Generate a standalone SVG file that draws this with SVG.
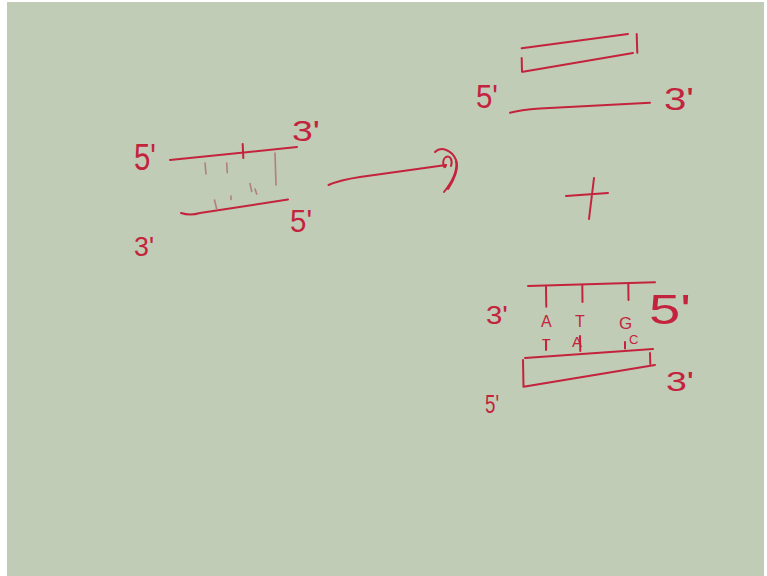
<svg xmlns="http://www.w3.org/2000/svg" width="767" height="576" viewBox="0 0 767 576">
<style>
.ink{fill:none;stroke:#c4233d;stroke-width:2;stroke-linecap:round;stroke-linejoin:round}
.faint{fill:none;stroke:#b0807c;stroke-width:1.6;stroke-linecap:round}
.lbl{font-family:"Liberation Sans",Arial,sans-serif;fill:#c4233d}
</style>
<rect x="0" y="0" width="767" height="576" fill="#ffffff"/>
<rect x="7" y="2" width="757" height="574" fill="#c0ccb5"/>

<g id="left-duplex">
  <path class="ink" d="M170,160 L297,147"/>
  <path class="ink" d="M242.7,144 L243.3,158"/>
  <path class="ink" d="M181,213 Q190,216 200,213 L288,199.5"/>
  <path class="faint" d="M205,163 L206,174 M226.7,163 L227.3,172.7 M275,153 L276,185 M214.5,200 L216.7,209 M231,196 L231,199.5 M250,183.5 L251.7,191.5 M255,189 L256.7,194"/>
  <text class="lbl" x="134" y="170" font-size="36" textLength="22" lengthAdjust="spacingAndGlyphs">5'</text>
  <text class="lbl" x="292" y="141" font-size="30" textLength="28" lengthAdjust="spacingAndGlyphs">3'</text>
  <text class="lbl" x="290" y="232" font-size="32" textLength="22" lengthAdjust="spacingAndGlyphs">5'</text>
  <text class="lbl" x="134" y="256" font-size="28" textLength="20" lengthAdjust="spacingAndGlyphs">3'</text>
</g>

<g id="connectors">
  <path class="ink" d="M328.5,185 Q340,180 360,177 L446,165"/>
  <path class="ink" d="M435,152 C441,146 452,150 456,160 C458,170 452,182 444,192"/>
  <path class="ink" d="M446,165 C444,172 441,160 446,157 C450,155 453,160 451,166 M448,189 C455,178 459,168 456,160"/>
</g>

<g id="top-right-strands">
  <path class="ink" d="M521.7,48.3 L628,34"/>
  <path class="ink" d="M636.7,34 L637.3,52.7"/>
  <path class="ink" d="M633,53 L523,71.7 M521.7,58 L522,71.7"/>
  <path class="ink" d="M510,112.7 Q520,110 540,108.5 L650,102.7"/>
  <text class="lbl" x="476" y="108" font-size="34" textLength="22" lengthAdjust="spacingAndGlyphs">5'</text>
  <text class="lbl" x="664" y="110" font-size="32" textLength="30" lengthAdjust="spacingAndGlyphs">3'</text>
</g>

<g id="plus">
  <path class="ink" d="M566,196 L608,193 M594,178 L589,219"/>
</g>

<g id="bottom-right-duplex">
  <path class="ink" d="M528,286 L655,282.3"/>
  <path class="ink" d="M546,286 L546.3,306.7 M582.3,285 L582.5,302 M628.3,283 L628.5,300"/>
  <path class="ink" d="M525,358 L653,349"/>
  <path class="ink" d="M546,340 L546,350 M580,336 L580.3,351 M625,342 L625,348.5"/>
  <path class="ink" d="M523,360 L523.5,386.7 L655,365 M650,353 L650.3,364"/>
  <text class="lbl" x="486" y="324" font-size="26" textLength="22" lengthAdjust="spacingAndGlyphs">3'</text>
  <text class="lbl" x="649" y="324" font-size="42" textLength="42" lengthAdjust="spacingAndGlyphs">5'</text>
  <text class="lbl" x="541" y="327" font-size="16">A</text>
  <text class="lbl" x="575" y="327" font-size="16">T</text>
  <text class="lbl" x="619" y="329" font-size="17">G</text>
  <text class="lbl" x="542" y="349" font-size="14">T</text>
  <text class="lbl" x="572" y="347" font-size="15">A</text>
  <text class="lbl" x="629" y="344" font-size="13">C</text>
  <text class="lbl" x="666" y="391" font-size="28" textLength="28" lengthAdjust="spacingAndGlyphs">3'</text>
  <text class="lbl" x="485" y="413" font-size="26" textLength="14" lengthAdjust="spacingAndGlyphs">5'</text>
</g>
</svg>
